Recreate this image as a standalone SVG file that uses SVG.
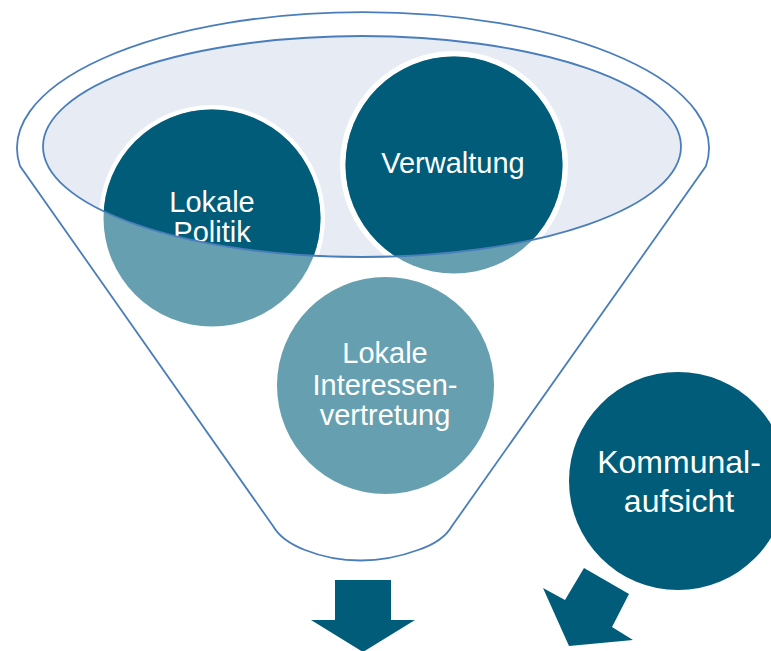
<svg xmlns="http://www.w3.org/2000/svg" width="771" height="651" viewBox="0 0 771 651">
<defs>
<style>
.line{fill:none;stroke:#4A7EBB;stroke-width:1.8}
.dark{fill:#005C78}
.light{fill:#66A0B0}
.ring{fill:#FFFFFF}
.lbl{font-family:"Liberation Sans",Arial,sans-serif;fill:#FFFFFF;text-anchor:middle;font-size:29px}
.big{font-size:32px}
</style>
<clipPath id="inner"><ellipse cx="362" cy="146.5" rx="319" ry="110.5"/></clipPath>
</defs>
<rect width="771" height="651" fill="#FFFFFF"/>
<g id="funnel">
<path class="line" d="M20,166 A346,136 0 1 1 706,166 L452,526 C444,540 430,546 418,550 C380,564 340,564 305,550 C292,545 280,538 273,526 Z" style="fill:#FFFFFF"/>
<ellipse cx="362" cy="146.5" rx="319" ry="110.5" fill="#E6EBF4"/>
</g>
<g clip-path="url(#inner)">
<circle class="ring" cx="212" cy="218" r="113"/>
<circle class="ring" cx="454" cy="165" r="114"/>
</g>
<g id="node-politik">
<circle class="light" cx="212" cy="218" r="108.5"/>
<circle class="dark" cx="212" cy="218" r="108.5" clip-path="url(#inner)"/>
<text class="lbl" clip-path="url(#inner)"><tspan x="212" y="212">Lokale</tspan><tspan x="212" y="242">Politik</tspan></text>
</g>
<g id="node-verwaltung">
<circle class="light" cx="454" cy="165" r="108.5"/>
<circle class="dark" cx="454" cy="165" r="108.5" clip-path="url(#inner)"/>
<text class="lbl" x="453" y="173">Verwaltung</text>
</g>
<ellipse class="line" cx="362" cy="146.5" rx="319" ry="110.5"/>
<g id="node-interessen">
<circle class="light" cx="385.5" cy="385.5" r="108.5"/>
<text class="lbl"><tspan x="385" y="363">Lokale</tspan><tspan x="385" y="395">Interessen-</tspan><tspan x="385" y="425">vertretung</tspan></text>
</g>
<g id="node-kommunalaufsicht">
<circle class="dark" cx="678" cy="481" r="109"/>
<text class="lbl big"><tspan x="679" y="473">Kommunal-</tspan><tspan x="679" y="512">aufsicht</tspan></text>
</g>
<g id="connectors">
<polygon class="dark" points="335,580 391,580 391,620 415,620 363,652 311,620 335,620"/>
<polygon class="dark" points="584,568 629,594 612,627 633,640 569,646 543,588 565,600"/>
</g>
</svg>
